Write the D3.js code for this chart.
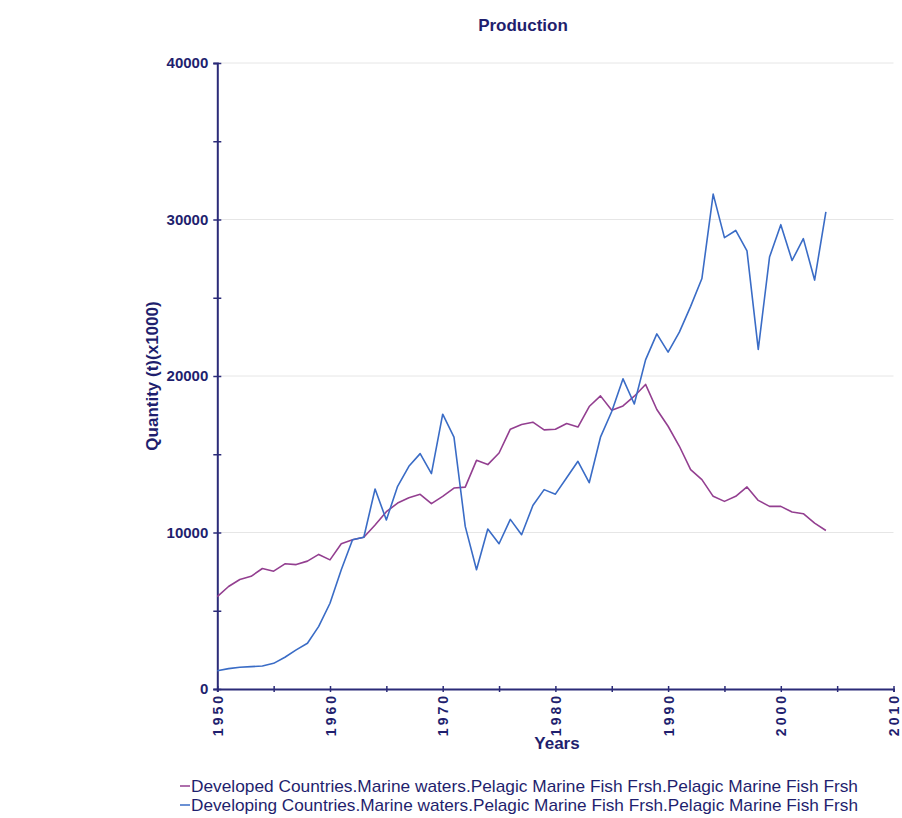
<!DOCTYPE html>
<html><head><meta charset="utf-8">
<script src="https://cdn.jsdelivr.net/npm/d3@7"></script>
<style>
body{margin:0;background:#fff}
svg{display:block}
text{font-family:"Liberation Sans",Arial,Helvetica,sans-serif}
</style>
</head><body>
<svg id="chart" width="902" height="818"></svg>
<script>
const years = [1950,1951,1952,1953,1954,1955,1956,1957,1958,1959,
  1960,1961,1962,1963,1964,1965,1966,1967,1968,1969,
  1970,1971,1972,1973,1974,1975,1976,1977,1978,1979,
  1980,1981,1982,1983,1984,1985,1986,1987,1988,1989,
  1990,1991,1992,1993,1994,1995,1996,1997,1998,1999,
  2000,2001,2002,2003,2004];

const developed = [5900,6550,7000,7200,7700,7530,8000,7950,8170,8600,
  8250,9280,9540,9700,10480,11330,11880,12220,12440,11840,
  12310,12840,12900,14610,14340,15080,16600,16900,17050,16560,
  16600,16960,16740,18050,18730,17810,18090,18710,19460,17860,
  16790,15510,14020,13380,12310,11990,12310,12910,12050,11670,
  11670,11310,11200,10600,10130];

const developing = [1170,1300,1390,1430,1470,1640,2030,2500,2920,4000,
  5480,7620,9540,9700,12780,10800,12950,14230,15040,13760,
  17560,16100,10390,7620,10220,9280,10840,9860,11720,12740,
  12450,13500,14550,13180,16090,17730,19820,18210,21030,22690,
  21530,22800,24450,26230,31620,28840,29300,27990,21700,27600,
  29670,27380,28780,26130,30480];

const seriesNames = [
  "Developed Countries.Marine waters.Pelagic Marine Fish Frsh.Pelagic Marine Fish Frsh",
  "Developing Countries.Marine waters.Pelagic Marine Fish Frsh.Pelagic Marine Fish Frsh"
];
const seriesColors = ["#933f90", "#3a6cc6"];

const yTicks = [0,5000,10000,15000,20000,25000,30000,35000,40000];
const yLabelTicks = [0,10000,20000,30000,40000];
const xTicks = [1950,1955,1960,1965,1970,1975,1980,1985,1990,1995,2000,2005,2010];
const xLabelTicks = [1950,1960,1970,1980,1990,2000,2010];

const titleText = "Production";
const xTitle = "Years";
const yTitle = "Quantity (t)(x1000)";

const navy = "#1f1f6e";
const axisCol = "#2b2b78";

const svg = d3.select("#chart");
const x = d3.scaleLinear().domain([1950, 2010]).range([217.3, 893.5]);
const y = d3.scaleLinear().domain([0, 40000]).range([689, 63]);

// gridlines
svg.append("g").selectAll("line")
  .data(yLabelTicks.filter(d => d > 0))
  .join("line")
  .attr("x1", x(1950)).attr("x2", x(2010))
  .attr("y1", d => y(d)).attr("y2", d => y(d))
  .attr("stroke", "#e6e6e6").attr("stroke-width", 1);

// y axis
const yAxis = svg.append("g")
  .attr("transform", `translate(${x(1950)},0)`)
  .call(d3.axisLeft(y).tickValues(yTicks).tickSize(4).tickPadding(5)
    .tickFormat(d => yLabelTicks.includes(d) ? String(d) : ""));
yAxis.select(".domain").attr("stroke", axisCol).attr("stroke-width", 2);
yAxis.selectAll(".tick line").attr("x1", 4).attr("stroke", axisCol).attr("stroke-width", 1.5);
yAxis.selectAll(".tick text")
  .attr("fill", navy).attr("font-size", 15).attr("font-weight", "bold")
  .style("font-family", '"Liberation Sans",Arial,sans-serif');

// x axis
const xAxis = svg.append("g")
  .attr("transform", `translate(0,${y(0)})`)
  .call(d3.axisBottom(x).tickValues(xTicks).tickSize(3)
    .tickFormat(d => xLabelTicks.includes(d) ? String(d) : ""));
xAxis.select(".domain").attr("stroke", axisCol).attr("stroke-width", 2);
xAxis.selectAll(".tick line").attr("y1", -3).attr("stroke", axisCol).attr("stroke-width", 1.5);
xAxis.selectAll(".tick text")
  .attr("transform", "rotate(-90)")
  .attr("x", -4).attr("y", 0).attr("dy", "0.36em")
  .attr("text-anchor", "end")
  .attr("fill", navy).attr("font-size", 14).attr("font-weight", "bold")
  .attr("letter-spacing", 3)
  .style("font-family", '"Liberation Sans",Arial,sans-serif');

// lines
const line = d3.line().x((d, i) => x(years[i])).y(d => y(d));
[developed, developing].forEach((s, k) => {
  svg.append("path")
    .datum(s)
    .attr("d", line)
    .attr("fill", "none")
    .attr("stroke", seriesColors[k])
    .attr("stroke-width", 1.6)
    .attr("stroke-linejoin", "round");
});

// title
svg.append("text")
  .attr("x", 523).attr("y", 31)
  .attr("text-anchor", "middle")
  .attr("font-size", 17).attr("font-weight", "bold")
  .attr("fill", navy)
  .text(titleText);

// x title
svg.append("text")
  .attr("x", 557).attr("y", 749)
  .attr("text-anchor", "middle")
  .attr("font-size", 17).attr("font-weight", "bold")
  .attr("fill", navy)
  .text(xTitle);

// y title
svg.append("text")
  .attr("transform", "translate(158,376) rotate(-90)")
  .attr("text-anchor", "middle")
  .attr("font-size", 17).attr("font-weight", "bold")
  .attr("fill", navy)
  .text(yTitle);

// legend
const legend = svg.append("g");
seriesNames.forEach((name, k) => {
  const by = 792 + k * 19;
  legend.append("line")
    .attr("x1", 180).attr("x2", 190)
    .attr("y1", by - 6).attr("y2", by - 6)
    .attr("stroke", seriesColors[k]).attr("stroke-width", 1.5);
  legend.append("text")
    .attr("x", 191).attr("y", by)
    .attr("font-size", 17)
    .attr("fill", navy)
    .attr("textLength", 667).attr("lengthAdjust", "spacingAndGlyphs")
    .text(name);
});
</script>
</body></html>
